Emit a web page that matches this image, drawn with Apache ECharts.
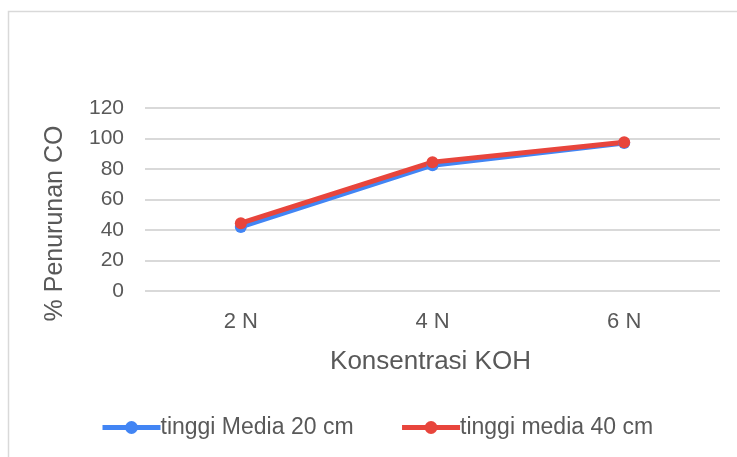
<!DOCTYPE html>
<html>
<head>
<meta charset="utf-8">
<script src="https://cdn.jsdelivr.net/npm/echarts@6/dist/echarts.min.js"></script>
<style>
  html, body { margin: 0; padding: 0; background: #fff; }
  #chart { width: 737px; height: 457px; }
</style>
</head>
<body>
<div id="chart"></div>
<script>
// KOH concentration categories and CO reduction (%) for two media heights
const categories = ['2 N', '4 N', '6 N'];
const media20 = [42, 82.5, 97];
const media40 = [44.5, 84.5, 97.5];
const seriesNames = ['tinggi Media 20 cm', 'tinggi media 40 cm'];
const yTicks = { min: 0, max: 120, interval: 20 };

const FONT = '"Liberation Sans", Arial, sans-serif';
const TEXT = '#595959';
const BLUE = '#4285F4';
const RED = '#E8453C';

const chart = echarts.init(document.getElementById('chart'), null, { renderer: 'canvas' });

chart.setOption({
  backgroundColor: '#ffffff',
  animation: false,
  graphic: [{
    type: 'rect',
    shape: { x: 8.5, y: 11.5, width: 760, height: 470 },
    style: { fill: 'none', stroke: '#d9d9d9', lineWidth: 1.5 },
    silent: true
  }],
  grid: { left: 145, right: 17, top: 108, bottom: 166, containLabel: false },
  legend: {
    top: 411,
    left: 95,
    itemWidth: 58,
    itemHeight: 16,
    itemGap: 46,
    lineStyle: { width: 5 },
    textStyle: { fontFamily: FONT, fontSize: 23, color: TEXT, padding: [0, 0, 0, -5] },
    data: seriesNames
  },
  xAxis: {
    type: 'category',
    data: categories,
    boundaryGap: true,
    axisLine: { show: false },
    axisTick: { show: false },
    axisLabel: { fontFamily: FONT, fontSize: 22, color: TEXT, margin: 20 },
    name: 'Konsentrasi KOH',
    nameLocation: 'middle',
    nameGap: 58,
    nameTextStyle: { fontFamily: FONT, fontSize: 26, color: TEXT, padding: [0, 4, 0, 0] }
  },
  yAxis: {
    type: 'value',
    min: yTicks.min,
    max: yTicks.max,
    interval: yTicks.interval,
    axisLine: { show: false },
    axisTick: { show: false },
    splitLine: { lineStyle: { color: '#d9d9d9', width: 2 } },
    axisLabel: { fontFamily: FONT, fontSize: 21, color: TEXT, margin: 21 },
    name: '% Penurunan CO',
    nameLocation: 'middle',
    nameGap: 77,
    nameRotate: 90,
    nameTextStyle: { fontFamily: FONT, fontSize: 25, color: TEXT, padding: [0, 48, 0, 0] }
  },
  series: [
    {
      name: seriesNames[0],
      type: 'line',
      data: media20,
      symbol: 'circle',
      symbolSize: 12,
      lineStyle: { width: 5, color: BLUE },
      itemStyle: { color: BLUE }
    },
    {
      name: seriesNames[1],
      type: 'line',
      data: media40,
      symbol: 'circle',
      symbolSize: 12,
      lineStyle: { width: 5, color: RED },
      itemStyle: { color: RED }
    }
  ]
});
</script>
</body>
</html>
